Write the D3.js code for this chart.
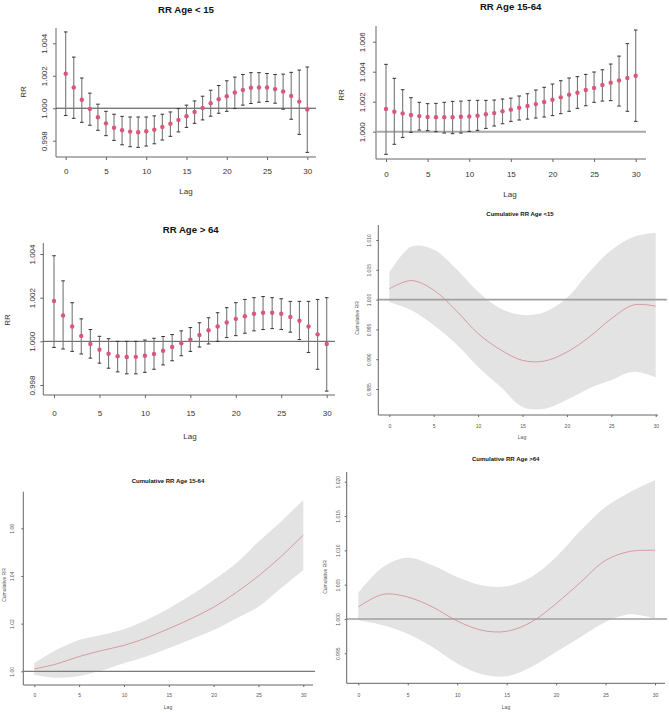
<!DOCTYPE html>
<html>
<head>
<meta charset="utf-8">
<script src="https://cdn.jsdelivr.net/npm/d3@7/dist/d3.min.js"></script>
<style>
  body { margin: 0; background: #fff; }
  svg { display: block; font-family: "Liberation Sans", Arial, sans-serif; }
</style>
</head>
<body>
<svg id="chart" width="669" height="713"></svg>
<script>
// ---- data ----
const lags = [0,1,2,3,4,5,6,7,8,9,10,11,12,13,14,15,16,17,18,19,20,21,22,23,24,25,26,27,28,29,30];
const lagTicks = [0,5,10,15,20,25,30];

// RR Age < 15
const rrU15   = [1.00212,1.00128,1.00052,0.99996,0.99944,0.99907,0.99880,0.99864,0.99856,0.99852,0.99858,0.99868,0.99885,0.99905,0.99928,0.99951,0.99977,1.00002,1.00031,1.00056,1.00074,1.00097,1.00113,1.00126,1.00128,1.00128,1.00118,1.00103,1.00076,1.00041,0.99992];
const rrU15Lo = [0.99955,0.99938,0.99913,0.99895,0.99864,0.99831,0.99802,0.99775,0.99763,0.99759,0.99767,0.99781,0.99804,0.99827,0.99854,0.99882,0.99907,0.99928,0.99951,0.99969,0.99981,0.99998,1.00019,1.00029,1.00037,1.00041,1.00031,0.99994,0.99932,0.99839,0.99728];
const rrU15Hi = [1.00470,1.00315,1.00186,1.00093,1.00025,0.99981,0.99963,0.99950,0.99946,0.99946,0.99946,0.99953,0.99963,0.99977,0.99998,1.00019,1.00045,1.00074,1.00111,1.00140,1.00169,1.00192,1.00208,1.00219,1.00219,1.00214,1.00208,1.00210,1.00221,1.00235,1.00254];

// RR Age 15-64
const rr1564   = [1.00151,1.00133,1.00122,1.00111,1.00104,1.00098,1.00096,1.00096,1.00096,1.00100,1.00102,1.00107,1.00116,1.00124,1.00136,1.00147,1.00160,1.00171,1.00184,1.00198,1.00213,1.00229,1.00247,1.00260,1.00278,1.00291,1.00311,1.00327,1.00342,1.00358,1.00373];
const rr1564Lo = [0.99849,0.99916,0.99962,0.99996,1.00011,1.00007,1.00000,0.99991,0.99987,0.99991,1.00002,1.00009,1.00022,1.00038,1.00053,1.00069,1.00078,1.00084,1.00091,1.00098,1.00107,1.00120,1.00136,1.00156,1.00173,1.00196,1.00204,1.00207,1.00171,1.00136,1.00069];
const rr1564Hi = [1.00449,1.00356,1.00280,1.00227,1.00196,1.00187,1.00189,1.00196,1.00202,1.00204,1.00209,1.00209,1.00209,1.00211,1.00218,1.00224,1.00238,1.00253,1.00278,1.00296,1.00318,1.00340,1.00358,1.00367,1.00382,1.00398,1.00413,1.00451,1.00504,1.00587,1.00678];

// RR Age > 64
const rr64   = [1.00185,1.00118,1.00068,1.00025,0.99988,0.99962,0.99943,0.99932,0.99928,0.99929,0.99934,0.99942,0.99957,0.99974,0.99991,1.00008,1.00029,1.00051,1.00068,1.00086,1.00103,1.00115,1.00126,1.00131,1.00131,1.00126,1.00112,1.00094,1.00068,1.00032,0.99988];
const rr64Lo = [0.99972,0.99965,0.99954,0.99942,0.99923,0.99900,0.99877,0.99860,0.99851,0.99851,0.99858,0.99872,0.99892,0.99911,0.99934,0.99954,0.99974,0.99988,1.00000,1.00017,1.00026,1.00037,1.00048,1.00054,1.00058,1.00054,1.00042,1.00008,0.99949,0.99872,0.99772];
const rr64Hi = [1.00392,1.00277,1.00177,1.00103,1.00054,1.00023,1.00012,1.00000,1.00000,1.00000,1.00006,1.00014,1.00022,1.00031,1.00048,1.00063,1.00085,1.00108,1.00131,1.00154,1.00177,1.00192,1.00200,1.00205,1.00200,1.00195,1.00183,1.00183,1.00183,1.00192,1.00200];

// cumulative curves
const cumLags = [0,2.5,5,7.5,10,12.5,15,17.5,20,22.5,25,27.5,30];

const cumU15   = [1.0018,1.0032,1.0016,0.9982,0.9943,0.9916,0.9898,0.9897,0.9912,0.9937,0.9968,0.9991,0.9989];
const cumU15Lo = [0.9996,0.9982,0.9957,0.9926,0.9887,0.9854,0.9820,0.9817,0.9832,0.9851,0.9865,0.9879,0.9870];
const cumU15Hi = [1.0045,1.0089,1.0084,1.0052,1.0013,0.9985,0.9974,0.9979,1.0003,1.0046,1.0083,1.0105,1.0112];

const cum1564   = [1.0010,1.0031,1.0062,1.0087,1.0109,1.0140,1.0179,1.0221,1.0269,1.0330,1.0400,1.0481,1.0572];
const cum1564Lo = [0.9985,0.9973,0.9980,1.0003,1.0034,1.0062,1.0097,1.0134,1.0173,1.0222,1.0271,1.0348,1.0425];
const cum1564Hi = [1.0034,1.0090,1.0131,1.0152,1.0176,1.0215,1.0264,1.0320,1.0383,1.0453,1.0544,1.0628,1.0719];

const cum64   = [1.00175,1.00359,1.00320,1.00175,0.99971,0.99835,0.99820,0.99956,1.00223,1.00539,1.00854,1.00985,1.01000];
const cum64Lo = [0.99981,0.99908,0.99786,0.99592,0.99350,0.99194,0.99165,0.99301,0.99519,0.99738,0.99956,1.00068,1.00005];
const cum64Hi = [1.00379,1.00757,1.00893,1.00782,1.00612,1.00490,1.00476,1.00612,1.00903,1.01291,1.01631,1.01850,1.02020];

const ticksU15  = [0.998,1.000,1.002,1.004];
const ticks1564 = [1.000,1.002,1.004,1.006];
const ticks64   = [0.998,1.000,1.002,1.004];
const ticksCumU15  = [0.985,0.990,0.995,1.000,1.005,1.010];
const ticksCum1564 = [1.00,1.02,1.04,1.06];
const ticksCum64   = [0.995,1.000,1.005,1.010,1.015,1.020];

// ---- drawing ----
const svg = d3.select("#chart");
const axisCol = "#666";

function frame(g, L, yTicks, yFmt) {
  const x = d3.scaleLinear().domain([0, 30]).range(L.xr);
  const y = d3.scaleLinear().domain([yTicks[0], yTicks[yTicks.length - 1]]).range(L.yr);

  const xAxis = g.append("g")
    .attr("transform", `translate(0,${L.bottom})`)
    .call(d3.axisBottom(x).tickValues(lagTicks).tickSize(L.tick));
  const yAxis = g.append("g")
    .attr("transform", `translate(${L.left},0)`)
    .call(d3.axisLeft(y).tickValues(yTicks).tickFormat(d3.format(yFmt)).tickSize(L.tick));

  [xAxis, yAxis].forEach(a => {
    a.select(".domain").remove();
    a.selectAll("line").attr("stroke", axisCol);
    a.selectAll("text").attr("fill", L.txt).style("font-size", L.fs + "px");
  });
  xAxis.selectAll("text")
    .attr("y", L.xTickY - L.bottom + L.fs * 0.35).attr("dy", null);
  yAxis.selectAll("text")
    .attr("transform", "rotate(-90)")
    .attr("text-anchor", "middle")
    .attr("x", 0).attr("dy", null)
    .attr("y", -(L.left - L.yTickX) + L.fs * 0.35);

  // L-shaped box
  g.append("path")
    .attr("d", `M${L.left},${L.top}V${L.bottom}H${L.right}`)
    .attr("fill", "none").attr("stroke", axisCol).attr("stroke-width", 1);

  g.append("text")
    .attr("x", L.title[0]).attr("y", L.title[1] + L.tfs * 0.35)
    .attr("text-anchor", "middle").attr("font-weight", "bold")
    .style("font-size", L.tfs + "px").attr("fill", "#111")
    .text(L.titleText);
  g.append("text")
    .attr("x", L.xlab[0]).attr("y", L.xlab[1] + L.fs * 0.35)
    .attr("text-anchor", "middle").style("font-size", L.fs + "px").attr("fill", L.txt)
    .text("Lag");
  g.append("text")
    .attr("transform", `translate(${L.ylab[0] + L.fs * 0.35},${L.ylab[1]}) rotate(-90)`)
    .attr("text-anchor", "middle").style("font-size", L.fs + "px").attr("fill", L.txt)
    .text(L.ylabText);
  return { x, y };
}

function dotPanel(L, est, lo, hi, yTicks) {
  const g = svg.append("g");
  const { x, y } = frame(g, L, yTicks, ".3f");
  g.append("line")
    .attr("x1", L.left).attr("x2", L.refRight)
    .attr("y1", y(1)).attr("y2", y(1))
    .attr("stroke", L.refCol).attr("stroke-width", L.refW);

  const rows = lags.map((l, i) => ({ l, e: est[i], lo: lo[i], hi: hi[i] }));
  const bars = g.append("g").selectAll("g").data(rows).join("g");
  bars.append("line")
    .attr("x1", d => x(d.l)).attr("x2", d => x(d.l))
    .attr("y1", d => y(d.lo)).attr("y2", d => y(d.hi))
    .attr("stroke", "#777").attr("stroke-width", 1.1);
  ["lo", "hi"].forEach(k => bars.append("line")
    .attr("x1", d => x(d.l) - 1.8).attr("x2", d => x(d.l) + 1.8)
    .attr("y1", d => y(d[k])).attr("y2", d => y(d[k]))
    .attr("stroke", "#333").attr("stroke-width", 1));
  bars.append("circle")
    .attr("cx", d => x(d.l)).attr("cy", d => y(d.e)).attr("r", 2.2)
    .attr("fill", "#d9577b");
}

function cumPanel(L, est, lo, hi, yTicks, fmt) {
  const g = svg.append("g");
  const layer = g.append("g");
  const { x, y } = frame(g, L, yTicks, fmt);
  const rows = cumLags.map((l, i) => ({ l, e: est[i], lo: lo[i], hi: hi[i] }));
  const curve = d3.curveCatmullRom.alpha(0.5);
  layer.append("path").datum(rows)
    .attr("d", d3.area().x(d => x(d.l)).y0(d => y(d.lo)).y1(d => y(d.hi)).curve(curve))
    .attr("fill", "#e3e3e3");
  layer.append("line")
    .attr("x1", L.left).attr("x2", L.refRight)
    .attr("y1", y(1)).attr("y2", y(1))
    .attr("stroke", L.refCol).attr("stroke-width", L.refW);
  layer.append("path").datum(rows)
    .attr("d", d3.line().x(d => x(d.l)).y(d => y(d.e)).curve(curve))
    .attr("fill", "none").attr("stroke", "#d3888f").attr("stroke-width", 0.8);
}

// panel layouts (pixel boxes of each sub-figure)
dotPanel({ left: 56, right: 316, top: 28, bottom: 157, xr: [65.7, 307.3], yr: [140.7, 43.3],
  tick: 3, fs: 8, tfs: 9.6, xTickY: 171.5, yTickX: 44, txt: "#333",
  title: [186, 10], xlab: [186, 191.5], ylab: [23.5, 92],
  titleText: "RR Age < 15", ylabText: "RR", refRight: 316, refCol: "#444", refW: 1 },
  rrU15, rrU15Lo, rrU15Hi, ticksU15);

dotPanel({ left: 376, right: 646, top: 26, bottom: 159, xr: [386, 635.7], yr: [131.7, 41.7],
  tick: 3, fs: 8, tfs: 9.6, xTickY: 174, yTickX: 362, txt: "#333",
  title: [510.7, 7], xlab: [510, 194], ylab: [341.5, 95],
  titleText: "RR Age 15-64", ylabText: "RR", refRight: 646, refCol: "#a8a8a8", refW: 2 },
  rr1564, rr1564Lo, rr1564Hi, ticks1564);

dotPanel({ left: 43.3, right: 335, top: 243, bottom: 395, xr: [54, 326.7], yr: [385, 254],
  tick: 3, fs: 8, tfs: 9.6, xTickY: 412.7, yTickX: 31.7, txt: "#333",
  title: [190.7, 230], xlab: [190, 436], ylab: [7.5, 320],
  titleText: "RR Age > 64", ylabText: "RR", refRight: 335, refCol: "#555", refW: 1 },
  rr64, rr64Lo, rr64Hi, ticks64);

cumPanel({ left: 378.3, right: 658, top: 225, bottom: 415, xr: [389.3, 655.7], yr: [389, 240],
  tick: 2, fs: 5, tfs: 6, xTickY: 426, yTickX: 369, txt: "#555",
  title: [520, 214], xlab: [522, 437.7], ylab: [357, 318],
  titleText: "Cumulative  RR Age <15", ylabText: "Cumulative RR", refRight: 667, refCol: "#a0a0a0", refW: 1.6 },
  cumU15, cumU15Lo, cumU15Hi, ticksCumU15, ".3f");

cumPanel({ left: 23.3, right: 313, top: 491.7, bottom: 685, xr: [34.3, 303.3], yr: [671.3, 528.3],
  tick: 2, fs: 5, tfs: 6, xTickY: 695, yTickX: 12.7, txt: "#555",
  title: [168, 480.7], xlab: [168, 707.3], ylab: [4, 585],
  titleText: "Cumulative RR Age 15-64", ylabText: "Cumulative RR", refRight: 315, refCol: "#7a7a7a", refW: 1.2 },
  cum1564, cum1564Lo, cum1564Hi, ticksCum1564, ".2f");

cumPanel({ left: 346.7, right: 665, top: 472, bottom: 683.3, xr: [358.3, 655], yr: [653.3, 481.7],
  tick: 2, fs: 5, tfs: 6, xTickY: 695, yTickX: 338, txt: "#555",
  title: [505.7, 459.3], xlab: [506, 707.7], ylab: [325, 577],
  titleText: "Cumulative RR Age >64", ylabText: "Cumulative RR", refRight: 667, refCol: "#a0a0a0", refW: 1.6 },
  cum64, cum64Lo, cum64Hi, ticksCum64, ".3f");
</script>
</body>
</html>
